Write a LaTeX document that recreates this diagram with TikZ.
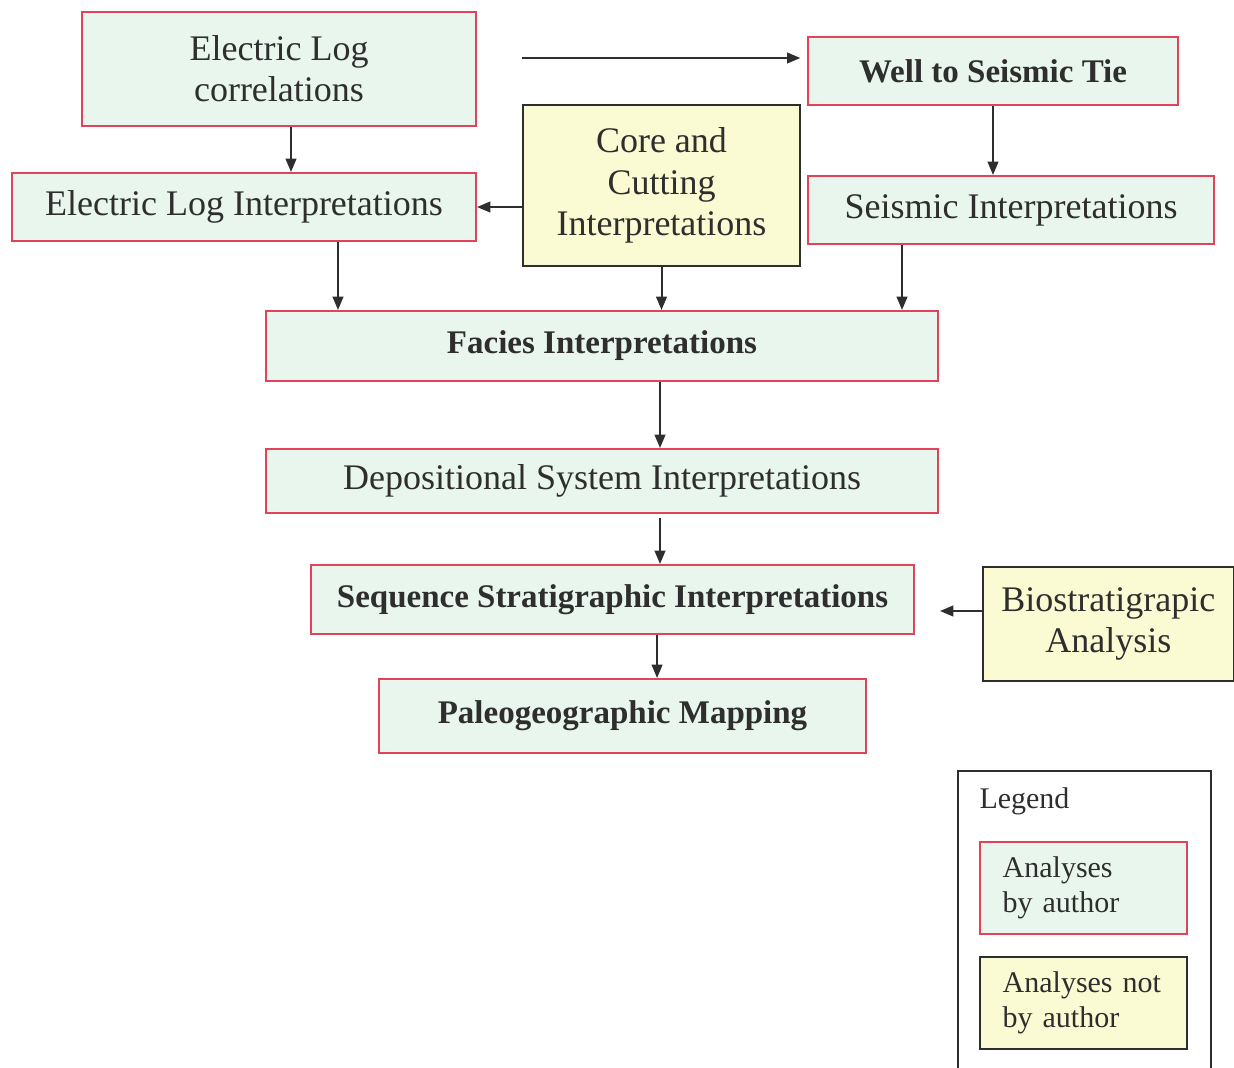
\documentclass[tikz,border=0pt]{standalone}
\usepackage{fontspec}
\setmainfont{Liberation Serif}
\usetikzlibrary{arrows.meta}

\definecolor{mintfill}{HTML}{E9F6EE}
\definecolor{authorred}{HTML}{E2435A}
\definecolor{notfill}{HTML}{FAFAD3}
\definecolor{inkgray}{HTML}{2E2E2E}

\tikzset{every picture/.style={line width=0.75pt}}
\tikzset{
  authorbox/.style={draw=authorred, fill=mintfill, line width=1.5pt, inner sep=0pt,
    anchor=north west, align=center, text=inkgray,
    font=\fontsize{27pt}{31pt}\selectfont},
  otherbox/.style={draw=inkgray, fill=notfill, line width=1.5pt, inner sep=0pt,
    anchor=north west, align=center, text=inkgray,
    font=\fontsize{27pt}{31pt}\selectfont},
  boldlabel/.style={font=\fontsize{24.75pt}{31pt}\selectfont\bfseries},
  legendtext/.style={font=\fontsize{22.5pt}{26pt}\selectfont, align=left,
    inner xsep=17pt, inner ysep=0pt, text width=121.5pt, anchor=north west,
    minimum height=69pt},
  flow/.style={draw=inkgray, line width=1.5pt, -{Triangle[length=10pt,width=8pt]}}
}

\begin{document}
\begin{tikzpicture}[x=0.75pt,y=0.75pt,yscale=-1,xscale=1]
    \useasboundingbox (0,0) rectangle (1234,1067);
    % Analyses by author
    \node[authorbox, minimum width=295.5pt, minimum height=85.5pt] (elcorr) at (81,11) {Electric Log\\correlations};
    \node[authorbox, minimum width=348pt, minimum height=51pt] (elint) at (11,172) {Electric Log Interpretations};
    \node[authorbox, boldlabel, minimum width=277.5pt, minimum height=51pt] (well) at (807,36) {Well to Seismic Tie};
    \node[authorbox, minimum width=304.5pt, minimum height=51pt] (seis) at (807,175) {Seismic Interpretations};
    \node[authorbox, boldlabel, minimum width=504pt, minimum height=52.5pt] (facies) at (265,310) {Facies Interpretations};
    \node[authorbox, minimum width=504pt, minimum height=48pt] (depo) at (265,448) {Depositional System Interpretations};
    \node[authorbox, boldlabel, minimum width=452.25pt, minimum height=51.75pt] (seq) at (310,564) {Sequence Stratigraphic Interpretations};
    \node[authorbox, boldlabel, minimum width=365.25pt, minimum height=55.5pt] (paleo) at (378,678) {Paleogeographic Mapping};
    % Analyses not by author
    \node[otherbox, minimum width=207.75pt, minimum height=120.75pt] (core) at (522,104) {Core and\\Cutting\\Interpretations};
    \node[otherbox, minimum width=188pt, minimum height=85.5pt] (bio) at (982,566) {Biostratigrapic\\Analysis};
    % Legend
    \draw[draw=inkgray, line width=1.5pt] (1211,1080) -- (1211,771) -- (958,771) -- (958,1080);
    \node[anchor=west, inner sep=0pt, text=inkgray, font=\fontsize{22.5pt}{26pt}\selectfont] (legtitle) at (979,801) {Legend};
    \node[legendtext, draw=authorred, fill=mintfill, line width=1.5pt, text=inkgray] (legauthor) at (979,841) {Analyses\\by author};
    \node[legendtext, draw=inkgray, fill=notfill, line width=1.5pt, text=inkgray] (legother) at (979,956) {Analyses not\\by author};
    % Connections
    \coordinate (tiestart) at (522,58);
    \draw[flow, shorten >=5pt] (tiestart) -- (tiestart -| well.west);
    \draw[flow] ([xshift=9pt]elcorr.south) -- ([xshift=9pt]elcorr.south |- elint.north);
    \draw[flow] (core.west |- elint.east) -- (elint.east);
    \draw[flow] (well.south) -- (well.south |- seis.north);
    \draw[flow] ([xshift=70.5pt]elint.south) -- ([xshift=70.5pt]elint.south |- facies.north);
    \draw[flow] (core.south) -- (core.south |- facies.north);
    \draw[flow] ([xshift=-81.75pt]seis.south) -- ([xshift=-81.75pt]seis.south |- facies.north);
    \draw[flow] ([xshift=43.5pt]facies.south) -- ([xshift=43.5pt]facies.south |- depo.north);
    \draw[flow] ([xshift=43.5pt,yshift=3pt]depo.south) -- ([xshift=43.5pt]depo.south |- seq.north);
    \draw[flow] ([xshift=33.4pt]seq.south) -- ([xshift=33.4pt]seq.south |- paleo.north);
    \draw[flow, shorten >=18.75pt] ([yshift=-9.75pt]bio.west) -- ([yshift=-9.75pt]bio.west -| seq.east);
\end{tikzpicture}
\end{document}
